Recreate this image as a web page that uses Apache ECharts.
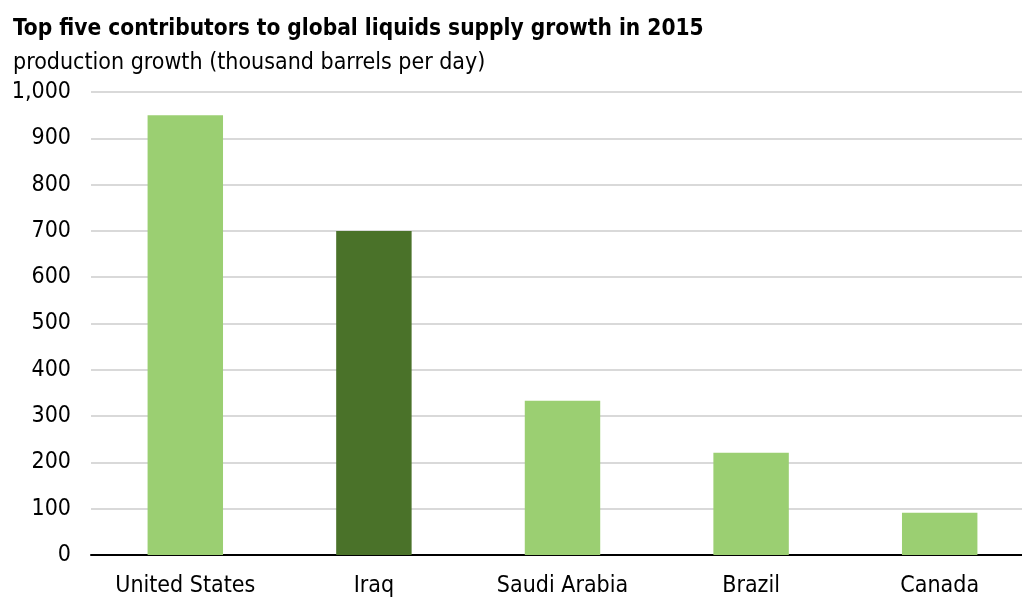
<!DOCTYPE html>
<html><head><meta charset="utf-8">
<script src="https://cdn.jsdelivr.net/npm/echarts@6/dist/echarts.min.js"></script>
<style>html,body{margin:0;padding:0;background:#fff;overflow:hidden}#c{width:1034px;height:599px}</style>
</head><body><div id="c"></div>
<script>
const categories = ["United States", "Iraq", "Saudi Arabia", "Brazil", "Canada"];
const values = [950, 700, 333, 221, 91];
const highlight = [false, true, false, false, false];
const yTicks = { min: 0, max: 1000, interval: 100 };
const titleText = "Top five contributors to global liquids supply growth in 2015";
const subtitleText = "production growth (thousand barrels per day)";

const font = '"DejaVu Sans Condensed", "Liberation Sans Narrow", sans-serif';
const chart = echarts.init(document.getElementById('c'), null, {renderer: 'canvas'});
chart.setOption({
  animation: false,
  backgroundColor: '#fff',
  title: [
    { text: titleText, left: 8, top: 13, textStyle: { fontFamily: font, fontWeight: 'bold', fontSize: 22.5, color: '#000' } },
    { text: subtitleText, left: 8, top: 47, textStyle: { fontFamily: font, fontWeight: 'normal', fontSize: 23, color: '#000' } }
  ],
  grid: { left: 91, right: 0, top: 92, bottom: 44, containLabel: false },
  xAxis: {
    type: 'category', data: categories,
    axisLine: { lineStyle: { color: '#000', width: 2 } },
    axisTick: { show: false },
    axisLabel: { fontFamily: font, fontSize: 23, color: '#000', margin: 20 }
  },
  yAxis: {
    type: 'value', min: yTicks.min, max: yTicks.max, interval: yTicks.interval,
    axisLine: { show: false }, axisTick: { show: false },
    splitLine: { lineStyle: { color: '#d9d9d9', width: 2 } },
    axisLabel: { fontFamily: font, fontSize: 23, color: '#000', margin: 20,
      formatter: v => v.toLocaleString('en-US') }
  },
  series: [{
    type: 'bar', barWidth: '40%',
    data: values.map((v, i) => ({ value: v, itemStyle: { color: highlight[i] ? '#4a7229' : '#9bcf72' } }))
  }]
});
</script></body></html>
